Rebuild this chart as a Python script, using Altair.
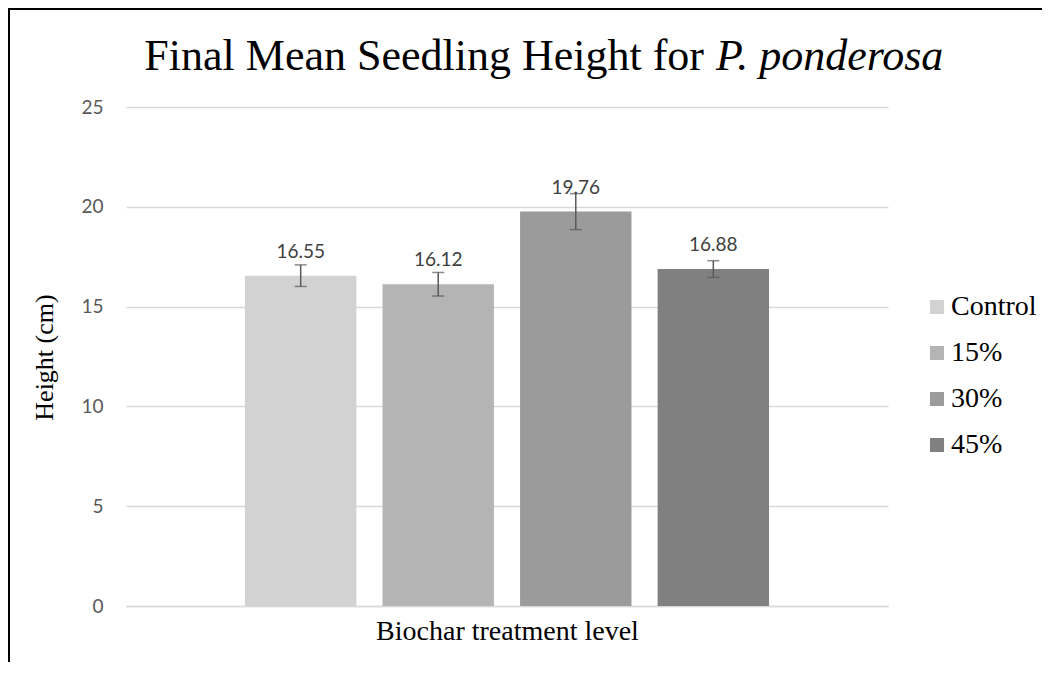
import altair as alt
import pandas as pd

treatments = ["Control", "15%", "30%", "45%"]
means = [16.55, 16.12, 19.76, 16.88]
errors = [0.54, 0.59, 0.90, 0.42]
colors = ["#d2d2d2", "#b4b4b4", "#9b9b9b", "#808080"]
y_ticks = [0, 5, 10, 15, 20, 25]
labels = ["16.55", "16.12", "19.76", "16.88"]

df = pd.DataFrame({
    "treatment": treatments,
    "mean": means,
    "low": [m - e for m, e in zip(means, errors)],
    "high": [m + e for m, e in zip(means, errors)],
    "label": labels,
})

xscale = alt.Scale(domain=treatments, paddingInner=0.19, paddingOuter=0.865)
x = alt.X("treatment:N", scale=xscale, sort=treatments,
          axis=alt.Axis(labels=False, ticks=False, domain=True, domainColor="#d9d9d9",
                        domainWidth=1.5,
                        title="Biochar treatment level", titleFont="Liberation Serif",
                        titleFontSize=28, titleFontWeight="normal", titleColor="#000000",
                        titlePadding=11))

bars = alt.Chart(df).mark_bar().encode(
    x=x,
    y=alt.Y("mean:Q", scale=alt.Scale(domain=[0, 25], nice=False),
            axis=alt.Axis(values=y_ticks, ticks=False, domain=False, grid=True,
                          gridColor="#d9d9d9", gridWidth=1.3,
                          labelFont="Lato", labelFontSize=19, labelColor="#595959",
                          labelPadding=23,
                          title="Height (cm)", titleFont="Liberation Serif",
                          titleFontSize=26, titleFontWeight="normal", titleColor="#000000",
                          titleX=-69, titleY=250, titleAngle=270)),
    color=alt.Color("treatment:N", scale=alt.Scale(domain=treatments, range=colors),
                    sort=treatments,
                    legend=alt.Legend(title=None, orient="none", legendX=797, legendY=186,
                                      padding=0,
                                      symbolType="square", symbolSize=196,
                                      symbolStrokeWidth=0, symbolOpacity=1,
                                      labelFont="Liberation Serif", labelFontSize=28,
                                      labelColor="#000000", labelOffset=0,
                                      rowPadding=18)),
)

rules = alt.Chart(df).mark_rule(color="#595959", strokeWidth=1.5).encode(
    x=alt.X("treatment:N", scale=xscale, sort=treatments),
    y="low:Q", y2="high:Q",
)
caps_low = alt.Chart(df).mark_tick(color="#595959", thickness=1.5, size=12, orient="horizontal").encode(
    x=alt.X("treatment:N", scale=xscale, sort=treatments), y="low:Q")
caps_high = alt.Chart(df).mark_tick(color="#595959", thickness=1.5, size=12, orient="horizontal").encode(
    x=alt.X("treatment:N", scale=xscale, sort=treatments), y="high:Q")

texts = alt.Chart(df).mark_text(font="Lato", fontSize=19, color="#404040",
                                baseline="alphabetic", dy=-18).encode(
    x=alt.X("treatment:N", scale=xscale, sort=treatments),
    y="mean:Q", text="label:N",
)

one = pd.DataFrame({"k": [0]})
title_a = alt.Chart(one).mark_text(text="Final Mean Seedling Height for", font="Liberation Serif",
                                   fontSize=44, align="right", baseline="alphabetic",
                                   color="#000000").encode(
    x=alt.value(578), y=alt.value(-37))
title_b = alt.Chart(one).mark_text(text="P. ponderosa", font="Liberation Serif", fontStyle="italic",
                                   fontSize=44, align="left", baseline="alphabetic",
                                   color="#000000").encode(
    x=alt.value(590), y=alt.value(-37))

border_left = alt.Chart(one).mark_rule(color="#000000", strokeWidth=2).encode(
    x=alt.value(-117), y=alt.value(-98), y2=alt.value(560))
border_top = alt.Chart(one).mark_rule(color="#000000", strokeWidth=2).encode(
    x=alt.value(-118), x2=alt.value(916), y=alt.value(-98))

chart = alt.layer(bars, rules, caps_low, caps_high, texts, title_a, title_b,
                  border_left, border_top).properties(
    width=762, height=499,
    background="#ffffff",
    autosize=alt.AutoSizeParams(type="none"),
    padding={"left": 118, "top": 99, "right": 154, "bottom": 56},
).configure_view(stroke=None, strokeWidth=0)

chart.save("out.html", embed_options={"renderer": "svg", "actions": False})
